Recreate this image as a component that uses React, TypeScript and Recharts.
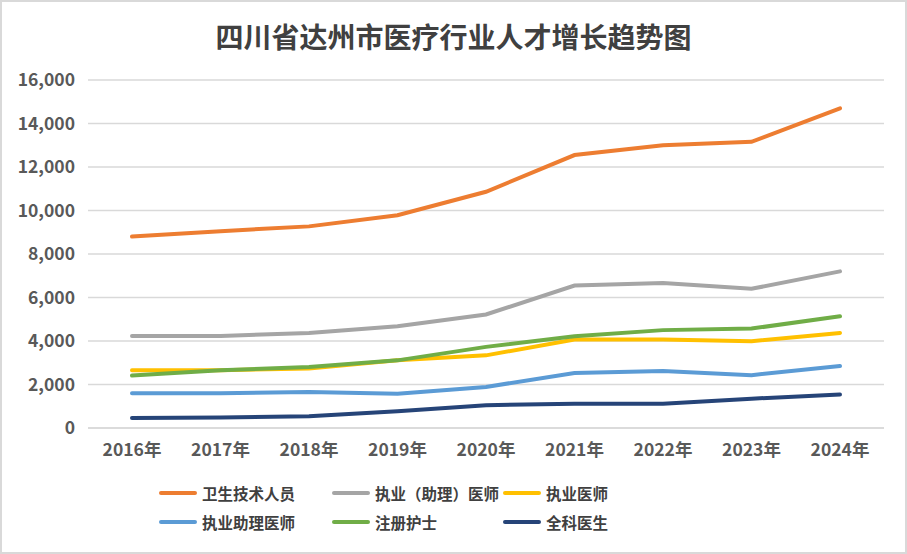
import { LineChart, Line, XAxis, YAxis, CartesianGrid } from "recharts";

const years = ["2016年", "2017年", "2018年", "2019年", "2020年", "2021年", "2022年", "2023年", "2024年"];

const healthTech = [8800, 9050, 9270, 9780, 10860, 12550, 13000, 13160, 14700];
const practicingAll = [4230, 4230, 4370, 4680, 5220, 6550, 6670, 6400, 7200];
const practicingDoctors = [2650, 2660, 2730, 3110, 3340, 4070, 4070, 3990, 4370];
const assistantDoctors = [1600, 1600, 1660, 1580, 1890, 2530, 2620, 2430, 2850];
const nurses = [2410, 2650, 2810, 3110, 3730, 4220, 4500, 4570, 5140];
const generalPractitioners = [460, 480, 540, 770, 1050, 1120, 1120, 1350, 1540];

const yTicks = [0, 2000, 4000, 6000, 8000, 10000, 12000, 14000, 16000];

const series = [
  { key: "healthTech", name: "卫生技术人员", color: "#ED7D31", values: healthTech },
  { key: "practicingAll", name: "执业（助理）医师", color: "#A5A5A5", values: practicingAll },
  { key: "practicingDoctors", name: "执业医师", color: "#FFC000", values: practicingDoctors },
  { key: "assistantDoctors", name: "执业助理医师", color: "#5B9BD5", values: assistantDoctors },
  { key: "nurses", name: "注册护士", color: "#70AD47", values: nurses },
  { key: "generalPractitioners", name: "全科医生", color: "#264478", values: generalPractitioners },
];

const data = years.map((year, i) => {
  const row: Record<string, string | number> = { year };
  series.forEach(s => {
    row[s.key] = s.values[i];
  });
  return row;
});

const FONT = '"Noto Sans CJK SC", "Noto Sans", sans-serif';
const legendCols = [159, 332, 503];
const legendRows = [493, 522];

export default function App() {
  return (
    <div style={{ position: "relative", width: 907, height: 554, background: "#fff", fontFamily: FONT }}>
      <style>{"body{margin:0}"}</style>
      <div
        style={{
          position: "absolute",
          top: 14,
          left: 0,
          width: 907,
          textAlign: "center",
          fontSize: 28,
          fontWeight: 700,
          color: "#404040",
          lineHeight: "44px",
        }}
      >
        四川省达州市医疗行业人才增长趋势图
      </div>
      <LineChart width={907} height={554} data={data} margin={{ top: 80, right: 23, bottom: 96, left: 0 }}>
        <CartesianGrid vertical={false} stroke="#D9D9D9" strokeWidth={1.5} />
        <XAxis
          dataKey="year"
          padding={{ left: 44, right: 44 }}
          axisLine={{ stroke: "#D9D9D9", strokeWidth: 1.5 }}
          tickLine={false}
          height={30}
          tickMargin={10}
          tick={{ fill: "#595959", fontSize: 17.5, fontWeight: 700, fontFamily: FONT }}
        />
        <YAxis
          width={88}
          domain={[0, 16000]}
          ticks={yTicks}
          axisLine={false}
          tickLine={false}
          tickMargin={7}
          tickFormatter={(v: number) => v.toLocaleString("en-US")}
          tick={{ fill: "#595959", fontSize: 17.5, fontWeight: 700, fontFamily: FONT }}
        />
        {series.map(s => (
          <Line
            key={s.key}
            dataKey={s.key}
            name={s.name}
            type="linear"
            stroke={s.color}
            strokeWidth={4}
            strokeLinecap="round"
            dot={false}
            activeDot={false}
            isAnimationActive={false}
          />
        ))}
      </LineChart>
      {series.map((s, i) => (
        <div
          key={s.key}
          style={{
            position: "absolute",
            left: legendCols[i % 3],
            top: legendRows[Math.floor(i / 3)] - 12,
            height: 24,
            display: "flex",
            alignItems: "center",
            whiteSpace: "nowrap",
          }}
        >
          <span style={{ display: "inline-block", width: 38, height: 4, borderRadius: 2, background: s.color }} />
          <span style={{ marginLeft: 5, fontSize: 15.5, fontWeight: 700, color: "#404040" }}>{s.name}</span>
        </div>
      ))}
      <div
        style={{
          position: "absolute",
          inset: 0,
          border: "2px solid #D9D9D9",
          pointerEvents: "none",
        }}
      />
    </div>
  );
}
